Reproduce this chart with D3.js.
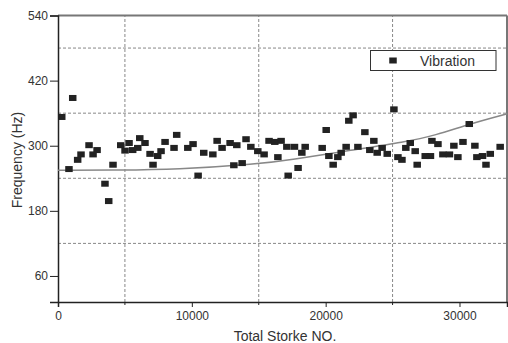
<!DOCTYPE html>
<html>
<head>
<meta charset="utf-8">
<script src="https://cdn.jsdelivr.net/npm/d3@7"></script>
<style>
  body { margin: 0; background: #fff; }
  svg text { font-family: "Liberation Sans", Arial, sans-serif; fill: #333; }
</style>
</head>
<body>
<div id="chart"></div>
<script>
// scatter: total stroke number vs vibration frequency (Hz)
const strokes = [280, 820, 1100, 1470, 1720, 2320, 2620, 2920, 3510, 3790, 4110, 4690,
  5010, 5310, 5580, 5960, 6110, 6500, 6880, 7100, 7450, 7700, 8000, 8670, 8870, 9700,
  10090, 10470, 10890, 11570, 11890, 12260, 12860, 13140, 13360, 13760, 14050, 14410,
  14930, 15400, 15770, 16200, 16430, 16670, 17100, 17200, 17670, 17940, 18220, 18470,
  19740, 20040, 20240, 20560, 20910, 21160, 21530, 21730, 22050, 22410, 22930, 23300,
  23600, 23850, 24220, 24600, 25100, 25400, 25700, 25990, 26320, 26690, 26840, 27440,
  27830, 27940, 28390, 28760, 29250, 29580, 29880, 30260, 30730, 31150, 31300, 31720,
  31980, 32300, 33040];
const frequency = [353, 257, 388, 274, 284, 301, 284, 292, 230, 198, 265, 301,
  291, 305, 292, 296, 314, 305, 285, 265, 281, 290, 307, 296, 320, 296,
  303, 245, 287, 284, 309, 296, 305, 264, 301, 268, 312, 298,
  290, 284, 309, 307, 279, 309, 298, 245, 298, 259, 287, 298,
  296, 329, 281, 265, 279, 287, 298, 346, 356, 298, 325, 292,
  309, 287, 296, 285, 367, 279, 274, 296, 305, 290, 265, 281,
  281, 309, 303, 284, 284, 300, 279, 307, 340, 300, 279, 281,
  265, 285, 298];

// grey trend curve
const fitX = [0, 4640, 8750, 14950, 17340, 21980, 25940, 28180, 30730, 33570];
const fitY = [255, 255, 256, 266, 274, 292, 307, 319, 340, 359];

const xTicks = [0, 10000, 20000, 30000];
const xGrid = [5000, 15000, 25000];
const yTicks = [60, 180, 300, 420, 540];
const yGrid = [120, 240, 360, 480];

const width = 508, height = 343;
const margin = { top: 15.5, right: 1, bottom: 41, left: 58 };

const svg = d3.select('#chart').append('svg')
  .attr('width', width)
  .attr('height', height);

const x = d3.scaleLinear().domain([0, 33550]).range([margin.left, width - margin.right]);
const y = d3.scaleLinear().domain([12, 540]).range([height - margin.bottom, margin.top]);

const x0 = margin.left, x1 = width - margin.right;
const y0 = height - margin.bottom, y1 = margin.top;

/* dashed grid */
svg.append('g').selectAll('line').data(yGrid).enter().append('line')
  .attr('x1', x0).attr('x2', x1)
  .attr('y1', d => y(d)).attr('y2', d => y(d))
  .attr('stroke', '#888').attr('stroke-width', 1)
  .attr('stroke-dasharray', '3,2');

svg.append('g').selectAll('line').data(xGrid).enter().append('line')
  .attr('x1', d => x(d)).attr('x2', d => x(d))
  .attr('y1', y0).attr('y2', y1)
  .attr('stroke', '#888').attr('stroke-width', 1)
  .attr('stroke-dasharray', '3,2');

/* frame top and right */
svg.append('line').attr('x1', x0).attr('x2', x1).attr('y1', y1).attr('y2', y1)
  .attr('stroke', '#777').attr('stroke-width', 2);
svg.append('line').attr('x1', x1).attr('x2', x1).attr('y1', y1).attr('y2', y0)
  .attr('stroke', '#777').attr('stroke-width', 2);

/* x axis */
const gx = svg.append('g').attr('transform', 'translate(0,' + y0 + ')')
  .call(d3.axisBottom(x).tickValues(xTicks).tickSize(5).tickPadding(4).tickFormat(d3.format('d')));
gx.select('.domain').attr('stroke', '#222').attr('stroke-width', 1.5);
gx.selectAll('.tick line').attr('stroke', '#222');
gx.selectAll('.tick text').attr('font-size', 12).attr('fill', '#333');

svg.append('g').selectAll('line').data(xGrid).enter().append('line')
  .attr('x1', d => x(d)).attr('x2', d => x(d))
  .attr('y1', y0).attr('y2', y0 + 3)
  .attr('stroke', '#222');

/* y axis */
const gy = svg.append('g').attr('transform', 'translate(' + x0 + ',0)')
  .call(d3.axisLeft(y).tickValues(yTicks).tickSize(8).tickPadding(2));
gy.select('.domain').attr('stroke', '#222').attr('stroke-width', 1.5);
gy.selectAll('.tick line').attr('stroke', '#222');
gy.selectAll('.tick text').attr('font-size', 12).attr('fill', '#333');

/* trend curve */
const fit = fitX.map((d, i) => ({ x: d, y: fitY[i] }));
svg.append('path')
  .datum(fit)
  .attr('fill', 'none')
  .attr('stroke', '#888')
  .attr('stroke-width', 1.5)
  .attr('d', d3.line().x(d => x(d.x)).y(d => y(d.y)).curve(d3.curveBasis));

/* markers */
const pts = strokes.map((d, i) => ({ x: d, y: frequency[i] }));
const mw = 7.5, mh = 6;
svg.append('g').selectAll('rect').data(pts).enter().append('rect')
  .attr('x', d => x(d.x) - mw / 2)
  .attr('y', d => y(d.y) - mh / 2)
  .attr('width', mw).attr('height', mh)
  .attr('fill', '#222');

/* axis titles */
svg.append('text')
  .attr('x', 285).attr('y', 341)
  .attr('text-anchor', 'middle')
  .attr('font-size', 14)
  .text('Total Storke NO.');

svg.append('text')
  .attr('transform', 'rotate(-90)')
  .attr('x', -160).attr('y', 22)
  .attr('text-anchor', 'middle')
  .attr('font-size', 14)
  .text('Frequency (Hz)');

/* legend */
const lg = svg.append('g');
lg.append('rect')
  .attr('x', 370.5).attr('y', 50.5).attr('width', 125.5).attr('height', 20)
  .attr('fill', '#fff').attr('stroke', '#333').attr('stroke-width', 1);
lg.append('rect')
  .attr('x', 393 - mw / 2).attr('y', 60.5 - mh / 2).attr('width', mw).attr('height', mh)
  .attr('fill', '#222');
lg.append('text')
  .attr('x', 420).attr('y', 65.5)
  .attr('font-size', 14)
  .text('Vibration');
</script>
</body>
</html>
